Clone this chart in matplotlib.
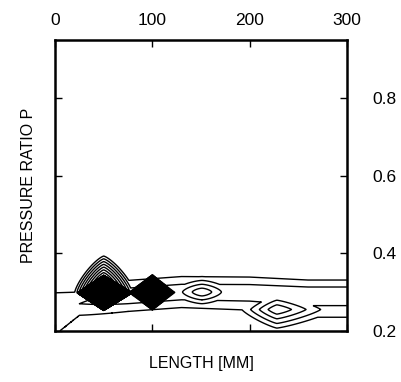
import numpy as np
import matplotlib
matplotlib.use('Agg')
import matplotlib.pyplot as plt

# contour humps:
# centre (length, P), top and foot height in contour steps,
# half widths left/right/down/up and shape norm (1 = diamond)
hump_x    = [50,    50,    100,   151,   228]
hump_p    = [0.298, 0.300, 0.299, 0.300, 0.255]
hump_top  = [42,    14,    32,    5,     5]
hump_foot = [14,    0,     3,     0,     0]
hump_wl   = [27,    32,    24,    50,    45]
hump_wr   = [29,    34,    23,    50,    75]
hump_wd   = [0.045, 0.02,  0.045, 0.05,  0.06]
hump_wu   = [0.045, 0.10,  0.045, 0.05,  0.06]
hump_norm = [1.0,   1.3,   1.0,   1.5,   1.2]

# low ridge running along the bottom, sampled at a few lengths
ridge_x   = [0,     25,    75,    130,   200,   260,   300]
ridge_a   = [2,     2,     3,     3,     3,     3,     3]
ridge_c   = [0.25,  0.27,  0.29,  0.30,  0.30,  0.295, 0.295]
ridge_wu  = [0.096, 0.06,  0.06,  0.06,  0.058, 0.054, 0.054]
ridge_wd  = [0.12,  0.06,  0.06,  0.06,  0.07,  0.09,  0.09]

levels = np.arange(1, 42)

x_ticks = [0, 100, 200, 300]
p_ticks = [0.2, 0.4, 0.6, 0.8]

L, P = np.meshgrid(np.linspace(0, 300, 901), np.linspace(0.2, 0.95, 901))

c = np.interp(L, ridge_x, ridge_c)
a = np.interp(L, ridge_x, ridge_a)
wu = np.interp(L, ridge_x, ridge_wu)
wd = np.interp(L, ridge_x, ridge_wd)
Z = a*(1 - np.abs(P-c)/np.where(P > c, wu, wd))

for x0, p0, top, foot, wl, wr, wdn, wup, q in zip(hump_x, hump_p, hump_top, hump_foot,
                                                  hump_wl, hump_wr, hump_wd, hump_wu, hump_norm):
    dx = np.abs(L-x0)/np.where(L > x0, wr, wl)
    dp = np.abs(P-p0)/np.where(P > p0, wup, wdn)
    d = (dx**q + dp**q)**(1/q)
    h = np.where(d < 1, foot + (top-foot)*(1-d), 0)
    Z = np.maximum(Z, h)

plt.rcParams['font.family'] = 'Liberation Sans'
fig = plt.figure(figsize=(4.02, 3.82), dpi=100)
ax = fig.add_axes([0.137, 0.134, 0.726, 0.761])
ax.contour(L, P, Z, levels=levels, colors='black', linewidths=1.0)

ax.set_xlim(0, 300)
ax.set_ylim(0.2, 0.95)
ax.set_xticks(x_ticks)
ax.set_yticks(p_ticks)
ax.set_yticklabels(['0.2', '0.4', '0.6', '0.8'])
ax.tick_params(direction='in', top=True, right=True, bottom=True, left=True,
               labeltop=True, labelbottom=False, labelright=True, labelleft=False,
               length=5, width=1, labelsize=12.5)
ax.tick_params(axis='x', pad=9)
ax.tick_params(axis='y', pad=18)
for s in ax.spines.values():
    s.set_linewidth(1.8)
ax.set_xlabel('LENGTH [MM]', fontsize=11.5, labelpad=18)
ax.set_ylabel('PRESSURE RATIO P', fontsize=11.5, labelpad=14)
ax.xaxis.set_label_position('bottom')

fig.savefig('out.png', dpi=100)
